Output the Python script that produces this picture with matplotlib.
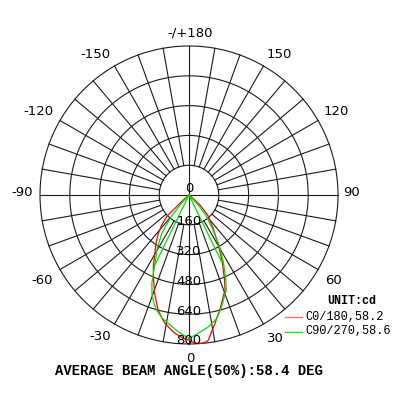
import numpy as np
import matplotlib
matplotlib.use("Agg")
import matplotlib.pyplot as plt
from matplotlib.transforms import offset_copy

# C0/180 curve (angle in deg from nadir, intensity cd)
red_angles = [-52, -49, -46, -42.5, -38.7, -35, -31.7, -29, -26.5, -24, -22, -19.5, -17, -15,
              -12.5, -10.6, -8, -5.8, -2.3, 0, 2.3, 4.9, 6.5, 7.6, 9.4, 11.5, 13, 15, 18.6,
              20.8, 23, 26.5, 30.4, 36, 43, 47.7, 50, 52]
red_values = [0, 40, 165, 215, 263, 305, 345, 385, 428, 470, 505, 555, 600, 639,
              675, 701, 725, 746, 770, 779, 797, 799, 795, 786, 744, 703, 672, 640, 576,
              546, 486, 400, 311, 221, 147, 80, 20, 0]

# C90/270 curve
green_angles = [-46, -42, -39.7, -35.5, -30.4, -25.8, -22.9, -20.4, -18, -15.7, -12.5, -9.2,
                -4.5, 0, 3.9, 8.3, 12.7, 16.3, 19.1, 21.3, 23.8, 27.2, 31, 35, 39.9, 43, 46]
green_values = [0, 60, 150, 251, 340, 425, 512, 570, 610, 642, 675, 698,
                737, 770, 744, 716, 679, 625, 578, 550, 489, 403, 313, 218, 140, 73, 0]
# straight segments of the C90/270 trace back to the centre
green_spoke_angles = [-26, 26]
green_spoke_values = [415, 400]

rings = [160, 320, 480, 640, 800]
ring_labels = ["160", "320", "480", "640", "800"]

angle_labels = ["-/+180", "-150", "150", "-120", "120", "-90", "90", "-60", "60", "-30", "30", "0"]
angle_label_px = [(190, 33), (95, 54), (279, 54), (38, 111), (336, 111), (22, 192), (352, 192),
                  (42, 281), (334, 281), (100, 337), (275, 338), (190, 358)]

legend_names = ["C0/180,58.2", "C90/270,58.6"]
legend_colors = ["#ff7070", "#22dd22"]

fig = plt.figure(figsize=(4, 4), dpi=100)
ax = fig.add_axes([0.1, 0.14, 0.745, 0.745], projection="polar")
ax.set_theta_zero_location("S")
ax.set_theta_direction(1)
ax.set_ylim(0, 800)
ax.grid(False)
ax.set_xticks([])
ax.set_yticks([])
ax.spines["polar"].set_visible(False)

gc = "#1a1a1a"
glw = 0.8
t = np.linspace(0, 2 * np.pi, 361)
for r in rings:
    ax.plot(t, np.full_like(t, r), color=gc, lw=glw, clip_on=False)
for a in range(0, 360, 10):
    th = np.deg2rad(a)
    r0 = 0 if a % 90 == 0 else rings[0]
    ax.plot([th, th], [r0, rings[-1]], color=gc, lw=glw, clip_on=False)

ax.plot(np.deg2rad(red_angles), red_values, color="red", lw=0.9, clip_on=False)
ax.plot(np.deg2rad(green_angles), green_values, color="#00dd00", lw=0.9, clip_on=False)
for a, v in zip(green_spoke_angles, green_spoke_values):
    ax.plot(np.deg2rad([a, a]), [0, v], color="#00dd00", lw=0.9)

font = "DejaVu Sans"
tr_up = offset_copy(ax.transData, fig=fig, x=0, y=3, units="dots")
ax.text(0, 0, "0", transform=offset_copy(ax.transData, fig=fig, x=0, y=6, units="dots"),
        ha="center", va="center", fontsize=9.5, family=font)
for r, lab in zip(rings, ring_labels):
    ax.text(0, r, lab, transform=tr_up, ha="center", va="center", fontsize=9.5, family=font)

for lab, (px, py) in zip(angle_labels, angle_label_px):
    fig.text(px / 400, 1 - py / 400, lab, ha="center", va="center", fontsize=9.5, family=font)

mono = "Liberation Mono"
fig.text(352 / 400, 1 - 301 / 400, "UNIT:cd", ha="center", va="center",
         fontsize=8.5, family=mono, weight="bold")
for i, (name, col) in enumerate(zip(legend_names, legend_colors)):
    y = 1 - (317 + 14.5 * i) / 400
    fig.add_artist(plt.Line2D([285 / 400, 302 / 400], [y, y], color=col, lw=1))
    fig.text(305 / 400, y, name, ha="left", va="center", fontsize=8.6, family=mono)

fig.text(189 / 400, 1 - 371 / 400, "AVERAGE BEAM ANGLE(50%):58.4 DEG", ha="center", va="center",
         fontsize=10, family=mono, weight="bold")

fig.savefig("out.png", dpi=100, facecolor="white")
